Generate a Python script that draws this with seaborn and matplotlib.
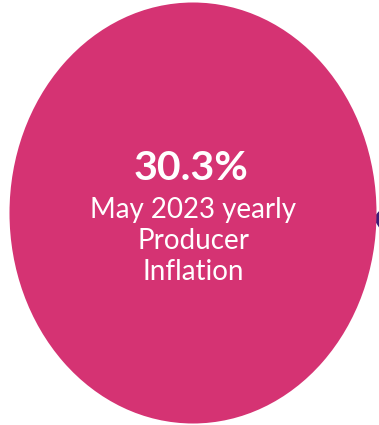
import matplotlib
matplotlib.use("Agg")
import matplotlib.pyplot as plt
import seaborn as sns
from matplotlib.patches import Ellipse, Polygon

sns.set_theme(style="white")
plt.rcParams['font.family'] = ['Lato', 'DejaVu Sans']

headline_value = "30.3%"
label_lines = ["May 2023 yearly", "Producer", "Inflation"]
pink = "#D53373"
purple = "#3A1D78"

fig = plt.figure(figsize=(3.79, 4.25), dpi=100)
ax = fig.add_axes([0, 0, 1, 1])
ax.set_xlim(0, 379)
ax.set_ylim(425, 0)
ax.axis("off")

ax.add_patch(Polygon([[373, 218], [380, 210], [380, 229]], closed=True,
                     facecolor=purple, edgecolor="none", zorder=1))
ax.add_patch(Ellipse((193, 213), 367, 421, facecolor=pink, edgecolor="none", zorder=2))

ax.text(191, 168, headline_value, ha="center", va="center", color="white",
        fontsize=29.5, fontweight="bold", zorder=3)
for i, line in enumerate(label_lines):
    ax.text(193, 210 + i * 31, line, ha="center", va="center", color="white",
            fontsize=20, zorder=3)

fig.savefig("out.png", dpi=100)
